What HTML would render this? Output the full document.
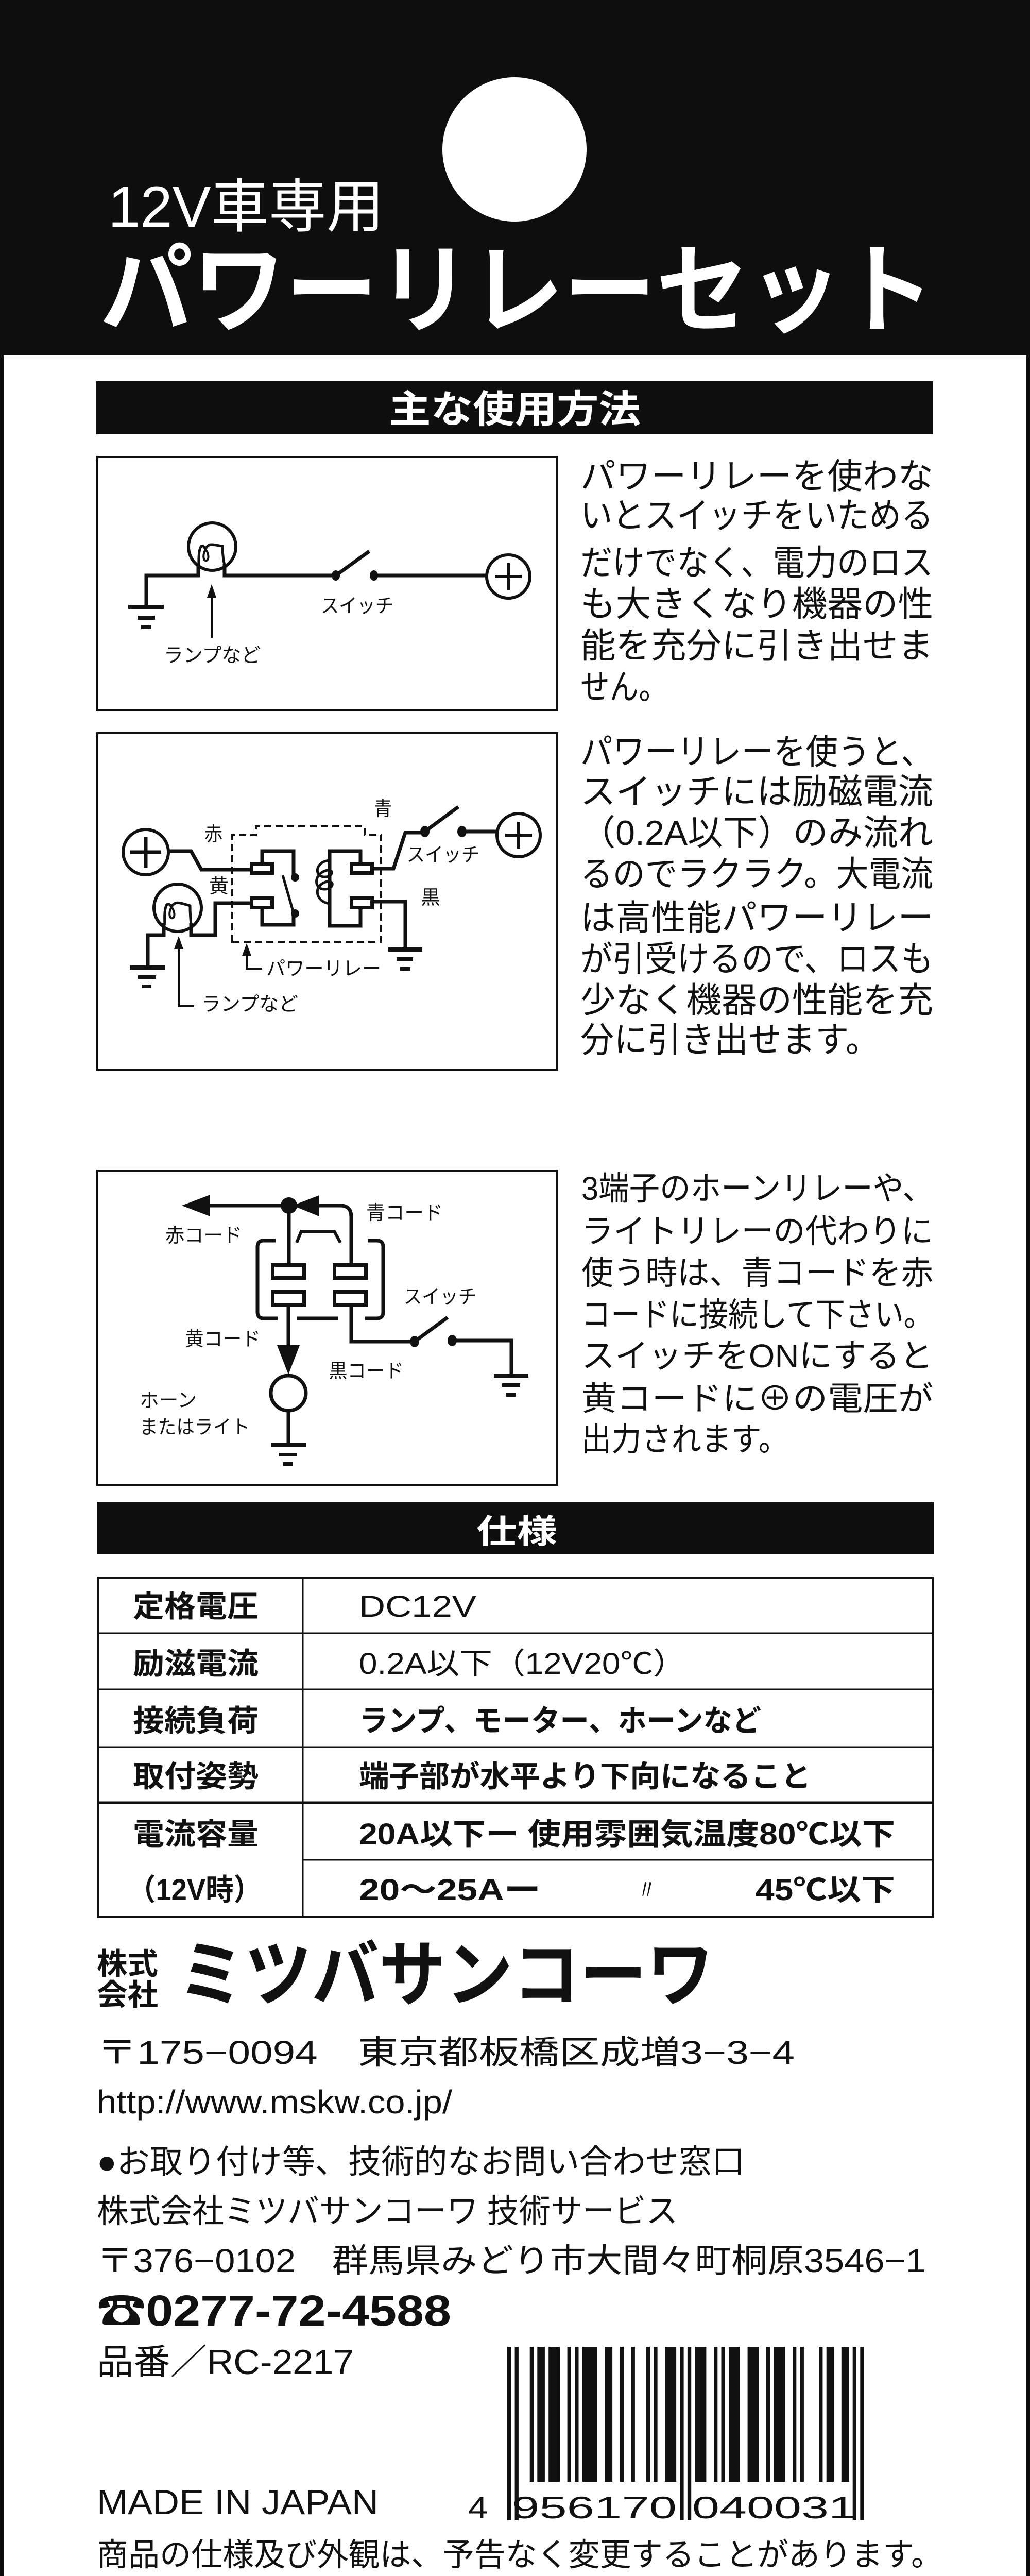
<!DOCTYPE html>
<html><head><meta charset="utf-8">
<style>
html,body{margin:0;padding:0;background:#fff;width:2000px;height:5138px;overflow:hidden;}
svg{display:block;position:absolute;left:0;top:0;}
text{font-family:"Liberation Sans","Noto Sans CJK JP",sans-serif;fill:#111;}
</style></head>
<body>
<svg width="2000" height="5138" viewBox="0 0 2000 5138" xmlns="http://www.w3.org/2000/svg">
<!-- frame -->
<rect x="0" y="0" width="2000" height="5138" fill="#0e0e0e"/>
<rect x="7" y="690" width="1986" height="4441" fill="#fff"/>
<!-- header -->
<ellipse cx="999" cy="290" rx="140" ry="140" fill="#fff"/>
<text x="210" y="440" font-size="112" style="fill:#fff" textLength="536" lengthAdjust="spacingAndGlyphs">12V車専用</text>
<text x="194" y="630" font-size="190" font-weight="bold" style="fill:#fff" textLength="1620" lengthAdjust="spacingAndGlyphs">パワーリレーセット</text>

<!-- section 1 header -->
<rect x="187" y="740" width="1625" height="103" fill="#0e0e0e"/>
<text x="755" y="820" font-size="74" font-weight="bold" style="fill:#fff" textLength="489" lengthAdjust="spacingAndGlyphs">主な使用方法</text>

<g fill="none" stroke="#111" stroke-width="7">
<!-- box 1 -->
<rect x="189" y="887" width="893" height="492" stroke-width="4"/>
<path d="M385,1094 V1117 H284 V1177"/>
<path d="M436,1094 V1117 H652"/>
<circle cx="412" cy="1061" r="46" stroke-width="6"/>
<path d="M386,1096 C385,1060 392,1052 399,1066 C405,1052 414,1058 432,1060 C432,1075 434,1090 436,1096" stroke-width="5"/>
<path d="M399,1066 C392,1080 396,1090 401,1088 C406,1086 406,1075 399,1066" stroke-width="4"/>
<path d="M652,1117 L717,1070"/>
<path d="M726,1117 H944"/>
<circle cx="987" cy="1119" r="42" stroke-width="6"/>
<path d="M961,1119 H1013 M987,1093 V1145" stroke-width="6"/>
<path d="M411,1238 V1156" stroke-width="4"/>

<!-- box 2 -->
<rect x="189" y="1423" width="893" height="653" stroke-width="4"/>
<circle cx="283" cy="1654" r="44" stroke-width="6"/>
<path d="M253,1654 H313 M283,1624 V1684" stroke-width="7"/>
<path d="M327,1652 H371 L391,1688 H488"/>
<rect x="488.5" y="1676.5" width="40" height="18"/>
<rect x="488.5" y="1743.5" width="40" height="18"/>
<path d="M509,1673 V1652 H570 V1700"/>
<path d="M509,1764 V1795 H570 V1773"/>
<path d="M549,1699 L570,1772" stroke-width="5"/>
<rect x="682.5" y="1676.5" width="40" height="18"/>
<rect x="682.5" y="1743.5" width="40" height="18"/>
<path d="M700,1673 V1652 H640 V1797 H700 V1764"/>
<path d="M640,1670 C612,1672 610,1700 628,1702 C648,1704 650,1684 632,1690 C608,1698 610,1726 630,1726 C650,1726 650,1706 632,1712 C608,1720 612,1750 640,1754" stroke-width="5"/>
<path d="M726,1686 H764 L787,1616 H825"/>
<path d="M825,1614 L890,1566"/>
<path d="M897,1614 H964"/>
<circle cx="1007" cy="1621" r="42" stroke-width="6"/>
<path d="M981,1621 H1033 M1007,1595 V1647" stroke-width="6"/>
<path d="M726,1750 H787 V1842"/>
<path d="M488,1753 H418 V1815 H371 V1792"/>
<path d="M318,1792 V1815 H287 V1877"/>
<circle cx="345" cy="1762" r="46" stroke-width="6"/>
<path d="M320,1795 C318,1755 325,1748 333,1760 C340,1748 348,1752 369,1758 C369,1772 370,1785 371,1795" stroke-width="5"/>
<path d="M333,1760 C326,1774 330,1784 335,1782 C340,1780 340,1770 333,1760" stroke-width="4"/>
<path d="M377,1953 H347 V1838" stroke-width="4"/>
<path d="M509,1880 H479 V1850" stroke-width="4"/>
<path d="M451,1828 V1621 H497 V1604 H708 V1620 H740 V1828 Z" stroke-width="4" stroke-dasharray="14 8"/>

<!-- box 3 -->
<rect x="189" y="2272" width="893" height="610" stroke-width="4"/>
<path d="M408,2340 H561"/>
<path d="M620,2340 H661 Q682,2340 682,2362 V2452"/>
<path d="M561,2340 V2452"/>
<rect x="529.5" y="2455.5" width="61" height="25"/>
<rect x="649.5" y="2455.5" width="61" height="25"/>
<rect x="529.5" y="2507.5" width="61" height="25"/>
<rect x="649.5" y="2507.5" width="61" height="25"/>
<path d="M535,2408 H512 Q500,2408 500,2420 V2547 Q500,2559 512,2559 H539"/>
<path d="M714,2408 H732 Q744,2408 744,2420 V2547 Q744,2559 732,2559 H709"/>
<path d="M576,2559 H656"/>
<path d="M576,2412 L585,2390 H649 L661,2412" stroke-width="6"/>
<path d="M560,2534 V2615"/>
<circle cx="560" cy="2704" r="34" stroke-width="7"/>
<path d="M560,2740 V2803"/>
<path d="M682,2534 V2604 H805"/>
<path d="M805,2604 L869,2557"/>
<path d="M878,2602 H993 V2669"/>
</g>
<g fill="#111">
<rect x="249" y="1174" width="69" height="8"/>
<rect x="267" y="1195" width="34" height="8"/>
<rect x="274" y="1213" width="20" height="8"/>
<ellipse cx="652" cy="1117" rx="8" ry="10"/>
<ellipse cx="726" cy="1117" rx="8" ry="10"/>
<polygon points="411,1134 402,1160 420,1160"/>
<circle cx="573" cy="1703" r="8"/>
<circle cx="573" cy="1773" r="8"/>
<ellipse cx="825" cy="1614" rx="9" ry="11"/>
<ellipse cx="897" cy="1614" rx="9" ry="11"/>
<rect x="754" y="1839" width="66" height="8"/>
<rect x="770" y="1858" width="32" height="7"/>
<rect x="777" y="1877" width="20" height="7"/>
<rect x="252" y="1874" width="68" height="8"/>
<rect x="268" y="1893" width="35" height="7"/>
<rect x="275" y="1911" width="19" height="7"/>
<polygon points="347,1817 338,1842 356,1842"/>
<polygon points="479,1831 470,1855 488,1855"/>
<polygon points="353,2340 408,2319 408,2361"/>
<polygon points="568,2340 620,2320 620,2361"/>
<circle cx="561" cy="2340" r="16"/>
<polygon points="538,2611 582,2611 560,2668"/>
<ellipse cx="805" cy="2604" rx="9" ry="11"/>
<ellipse cx="878" cy="2602" rx="9" ry="11"/>
<rect x="526" y="2800" width="68" height="8"/>
<rect x="541" y="2820" width="35" height="7"/>
<rect x="550" y="2838" width="18" height="7"/>
<rect x="959" y="2666" width="67" height="8"/>
<rect x="975" y="2685" width="35" height="7"/>
<rect x="983" y="2704" width="18" height="7"/>
</g>

<!-- diagram labels -->
<g font-size="38">
<text x="623" y="1189" textLength="141" lengthAdjust="spacingAndGlyphs">スイッチ</text>
<text x="318" y="1285" textLength="188" lengthAdjust="spacingAndGlyphs">ランプなど</text>
<text x="397" y="1632" textLength="35" lengthAdjust="spacingAndGlyphs">赤</text>
<text x="406" y="1733" textLength="38" lengthAdjust="spacingAndGlyphs">黄</text>
<text x="726" y="1583" textLength="35" lengthAdjust="spacingAndGlyphs">青</text>
<text x="817" y="1755" textLength="38" lengthAdjust="spacingAndGlyphs">黒</text>
<text x="790" y="1672" textLength="141" lengthAdjust="spacingAndGlyphs">スイッチ</text>
<text x="517" y="1893" textLength="223" lengthAdjust="spacingAndGlyphs">パワーリレー</text>
<text x="391" y="1962" textLength="188" lengthAdjust="spacingAndGlyphs">ランプなど</text>
<text x="321" y="2411" textLength="149" lengthAdjust="spacingAndGlyphs">赤コード</text>
<text x="711" y="2367" textLength="149" lengthAdjust="spacingAndGlyphs">青コード</text>
<text x="784" y="2530" textLength="141" lengthAdjust="spacingAndGlyphs">スイッチ</text>
<text x="359" y="2612" textLength="147" lengthAdjust="spacingAndGlyphs">黄コード</text>
<text x="638" y="2674" textLength="146" lengthAdjust="spacingAndGlyphs">黒コード</text>
<text x="271" y="2731" textLength="111" lengthAdjust="spacingAndGlyphs">ホーン</text>
<text x="271" y="2783" textLength="214" lengthAdjust="spacingAndGlyphs">またはライト</text>
</g>

<!-- right column texts -->
<g font-size="68">
<text x="1127" y="948" textLength="685" lengthAdjust="spacingAndGlyphs">パワーリレーを使わな</text>
<text x="1127" y="1024" textLength="685" lengthAdjust="spacingAndGlyphs">いとスイッチをいためる</text>
<text x="1127" y="1116" textLength="685" lengthAdjust="spacingAndGlyphs">だけでなく、電力のロス</text>
<text x="1127" y="1196" textLength="685" lengthAdjust="spacingAndGlyphs">も大きくなり機器の性</text>
<text x="1127" y="1277" textLength="685" lengthAdjust="spacingAndGlyphs">能を充分に引き出せま</text>
<text x="1127" y="1357" textLength="170" lengthAdjust="spacingAndGlyphs">せん。</text>

<text x="1127" y="1483" textLength="685" lengthAdjust="spacingAndGlyphs">パワーリレーを使うと、</text>
<text x="1127" y="1560" textLength="685" lengthAdjust="spacingAndGlyphs">スイッチには励磁電流</text>
<text x="1127" y="1640" textLength="685" lengthAdjust="spacingAndGlyphs">（0.2A以下）のみ流れ</text>
<text x="1127" y="1720" textLength="685" lengthAdjust="spacingAndGlyphs">るのでラクラク。大電流</text>
<text x="1127" y="1805" textLength="685" lengthAdjust="spacingAndGlyphs">は高性能パワーリレー</text>
<text x="1127" y="1885" textLength="685" lengthAdjust="spacingAndGlyphs">が引受けるので、ロスも</text>
<text x="1127" y="1965" textLength="685" lengthAdjust="spacingAndGlyphs">少なく機器の性能を充</text>
<text x="1127" y="2042" textLength="580" lengthAdjust="spacingAndGlyphs">分に引き出せます。</text>
</g>
<g font-size="64">
<text x="1129" y="2329" textLength="683" lengthAdjust="spacingAndGlyphs">3端子のホーンリレーや、</text>
<text x="1129" y="2412" textLength="683" lengthAdjust="spacingAndGlyphs">ライトリレーの代わりに</text>
<text x="1129" y="2493" textLength="683" lengthAdjust="spacingAndGlyphs">使う時は、青コードを赤</text>
<text x="1129" y="2574" textLength="683" lengthAdjust="spacingAndGlyphs">コードに接続して下さい。</text>
<text x="1129" y="2654" textLength="683" lengthAdjust="spacingAndGlyphs">スイッチをONにすると</text>
<text x="1129" y="2737" textLength="683" lengthAdjust="spacingAndGlyphs">黄コードに⊕の電圧が</text>
<text x="1129" y="2816" textLength="402" lengthAdjust="spacingAndGlyphs">出力されます。</text>
</g>

<!-- spec -->
<rect x="188" y="2915" width="1626" height="101" fill="#0e0e0e"/>
<text x="925" y="2995" font-size="64" font-weight="bold" style="fill:#fff" textLength="157" lengthAdjust="spacingAndGlyphs">仕様</text>
<g fill="none" stroke="#111">
<rect x="190" y="3062" width="1622" height="659" stroke-width="4"/>
<path d="M588,3060 V3721" stroke-width="3"/>
<path d="M190,3170 H1812 M190,3279 H1812 M190,3391 H1812 M588,3610 H1812" stroke-width="3"/>
<path d="M190,3499 H1812" stroke-width="5"/>
</g>
<g font-size="58">
<g font-weight="bold">
<text x="258" y="3138" textLength="244" lengthAdjust="spacingAndGlyphs">定格電圧</text>
<text x="258" y="3249" textLength="244" lengthAdjust="spacingAndGlyphs">励滋電流</text>
<text x="258" y="3360" textLength="244" lengthAdjust="spacingAndGlyphs">接続負荷</text>
<text x="258" y="3468" textLength="244" lengthAdjust="spacingAndGlyphs">取付姿勢</text>
<text x="258" y="3580" textLength="244" lengthAdjust="spacingAndGlyphs">電流容量</text>
<text x="248" y="3688" textLength="260" lengthAdjust="spacingAndGlyphs">（12V時）</text>
</g>
<text x="697" y="3138" textLength="228" lengthAdjust="spacingAndGlyphs">DC12V</text>
<text x="697" y="3249" textLength="635" lengthAdjust="spacingAndGlyphs">0.2A以下（12V20℃）</text>
<text x="697" y="3360" textLength="781" lengthAdjust="spacingAndGlyphs" font-weight="bold">ランプ、モーター、ホーンなど</text>
<text x="697" y="3468" textLength="878" lengthAdjust="spacingAndGlyphs" font-weight="bold">端子部が水平より下向になること</text>
<text x="697" y="3580" textLength="1041" lengthAdjust="spacingAndGlyphs" font-weight="bold">20A以下ー 使用雰囲気温度80℃以下</text>
<text x="697" y="3688" textLength="353" lengthAdjust="spacingAndGlyphs" font-weight="bold">20〜25Aー</text>
<text x="1240" y="3688" textLength="32" lengthAdjust="spacingAndGlyphs">〃</text>
<text x="1467" y="3688" textLength="271" lengthAdjust="spacingAndGlyphs" font-weight="bold">45℃以下</text>
</g>

<!-- company -->
<text x="188" y="3832" font-size="58" font-weight="bold" textLength="119" lengthAdjust="spacingAndGlyphs">株式</text>
<text x="188" y="3892" font-size="58" font-weight="bold" textLength="119" lengthAdjust="spacingAndGlyphs">会社</text>
<text x="345" y="3882" font-size="140" font-weight="bold" textLength="1041" lengthAdjust="spacingAndGlyphs">ミツバサンコーワ</text>
<g font-size="64">
<text x="188" y="4006" textLength="1355" lengthAdjust="spacingAndGlyphs">〒175−0094　東京都板橋区成増3−3−4</text>
<text x="188" y="4102" textLength="690" lengthAdjust="spacingAndGlyphs">http://www.mskw.co.jp/</text>
<text x="188" y="4218" textLength="1258" lengthAdjust="spacingAndGlyphs">●お取り付け等、技術的なお問い合わせ窓口</text>
<text x="188" y="4314" textLength="1128" lengthAdjust="spacingAndGlyphs">株式会社ミツバサンコーワ 技術サービス</text>
<text x="188" y="4410" textLength="1610" lengthAdjust="spacingAndGlyphs">〒376−0102　群馬県みどり市大間々町桐原3546−1</text>
</g>
<text x="188" y="4514" font-size="84" font-weight="bold" textLength="688" lengthAdjust="spacingAndGlyphs">☎0277-72-4588</text>
<text x="188" y="4608" font-size="68" textLength="499" lengthAdjust="spacingAndGlyphs">品番／RC-2217</text>
<text x="188" y="4880" font-size="68" textLength="547" lengthAdjust="spacingAndGlyphs">MADE IN JAPAN</text>
<text x="188" y="4980" font-size="62" textLength="1642" lengthAdjust="spacingAndGlyphs">商品の仕様及び外観は、予告なく変更することがあります。</text>

<!-- barcode -->
<g fill="#111">
<rect x="985" y="4555" width="7.3" height="337"/>
<rect x="999.6" y="4555" width="7.3" height="337"/>
<rect x="1028.7" y="4555" width="7.3" height="262"/>
<rect x="1043.3" y="4555" width="14.6" height="262"/>
<rect x="1065.2" y="4555" width="21.9" height="262"/>
<rect x="1101.6" y="4555" width="7.3" height="262"/>
<rect x="1116.2" y="4555" width="7.3" height="262"/>
<rect x="1130.8" y="4555" width="29.2" height="262"/>
<rect x="1174.5" y="4555" width="14.6" height="262"/>
<rect x="1203.7" y="4555" width="7.3" height="262"/>
<rect x="1225.6" y="4555" width="7.3" height="262"/>
<rect x="1254.7" y="4555" width="7.3" height="262"/>
<rect x="1269.3" y="4555" width="7.3" height="262"/>
<rect x="1291.2" y="4555" width="21.9" height="262"/>
<rect x="1320.3" y="4555" width="7.3" height="337"/>
<rect x="1334.9" y="4555" width="7.3" height="337"/>
<rect x="1349.5" y="4555" width="21.9" height="262"/>
<rect x="1386" y="4555" width="7.3" height="262"/>
<rect x="1400.5" y="4555" width="7.3" height="262"/>
<rect x="1415.1" y="4555" width="21.9" height="262"/>
<rect x="1451.6" y="4555" width="21.9" height="262"/>
<rect x="1488" y="4555" width="7.3" height="262"/>
<rect x="1502.6" y="4555" width="21.9" height="262"/>
<rect x="1539" y="4555" width="7.3" height="262"/>
<rect x="1553.6" y="4555" width="7.3" height="262"/>
<rect x="1590.1" y="4555" width="7.3" height="262"/>
<rect x="1604.7" y="4555" width="14.6" height="262"/>
<rect x="1633.8" y="4555" width="14.6" height="262"/>
<rect x="1655.7" y="4555" width="7.3" height="337"/>
<rect x="1670.3" y="4555" width="7.3" height="337"/>
</g>
<g font-size="60">
<text x="909" y="4888" textLength="38" lengthAdjust="spacingAndGlyphs">4</text>
<text x="994" y="4888" textLength="320" lengthAdjust="spacingAndGlyphs">956170</text>
<text x="1344" y="4888" textLength="318" lengthAdjust="spacingAndGlyphs">040031</text>
</g>
</svg>
</body></html>
